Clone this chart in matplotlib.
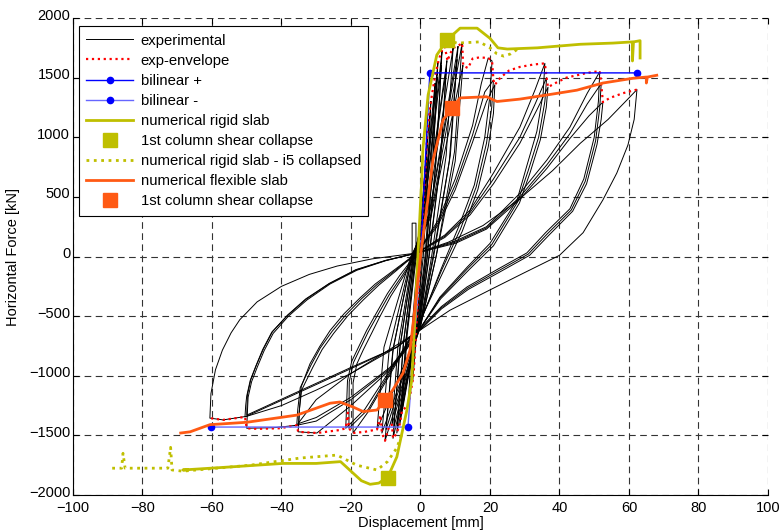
import numpy as np
import matplotlib.pyplot as plt
import matplotlib.transforms as mtransforms

plt.rcParams['font.family'] = ['Liberation Sans', 'DejaVu Sans']

# ---------------- data ----------------
# experimental cycles (displacement mm, force kN), one closed path per cycle
exp_cycles = [
    [(-1.3, -30), (-1.3, 280), (-2.4, 280), (-2.4, -30), (-1, 0), (0.6, 400), (2, 1000),
     (1.2, 450), (0.4, 0), (-0.6, -450), (-2.2, -1035), (-1.4, -450), (-0.5, 0), (0.6, 450), (2, 1000)],
    [(3, 1300), (2, 600), (0.8, 0), (-0.6, -400), (-3.5, -1250), (-2.4, -600), (-0.8, 0), (0.7, 500), (3, 1300)],
    [(4.2, 1450), (3, 700), (1.3, 0), (-0.5, -450), (-5.3, -1290), (-3.8, -650), (-1.2, 0), (0.8, 450), (4.2, 1450)],
    [(5, 1620), (3.6, 800), (1.6, 0), (-0.3, -500), (-5.9, -1400), (-4.2, -700), (-1.5, 0), (1, 450), (5, 1620)],
    [(4.8, 1500), (3.4, 720), (1.5, 0), (-0.4, -480), (-5.6, -1330), (-4, -660), (-1.4, 0), (1, 430), (4.8, 1500)],
    [(6.2, 1720), (4.6, 850), (2, 0), (-0.2, -520), (-6.8, -1480), (-5, -750), (-1.8, 0), (1.2, 420), (6.2, 1720)],
    [(6, 1600), (4.4, 780), (1.9, 0), (-0.2, -500), (-6.6, -1400), (-4.8, -700), (-1.7, 0), (1.2, 400), (6, 1600)],
    [(7.6, 1640), (5.8, 800), (2.5, 0), (-0.1, -540), (-7.9, -1525), (-6, -780), (-2, 0), (1.5, 400), (7.6, 1640)],
    [(7.4, 1560), (5.6, 760), (2.4, 0), (-0.1, -520), (-7.7, -1440), (-5.8, -740), (-2, 0), (1.5, 380), (7.4, 1560)],
    [(9.4, 1750), (7.4, 850), (3.2, 0), (0, -560), (-8.2, -1410), (-6.5, -760), (-2.2, 0), (2, 380), (9.4, 1750)],
    [(10.8, 1760), (8.6, 850), (3.8, 0), (0, -580), (-10.2, -1545), (-8, -800), (-2.5, 0), (2.5, 360), (10.8, 1760)],
    [(10.5, 1650), (8.3, 800), (3.6, 0), (0, -560), (-9.9, -1450), (-7.8, -760), (-2.4, 0), (2.5, 340), (10.5, 1650)],
    [(12, 1790), (9.8, 880), (4.5, 0), (0, -590), (-11.1, -1480), (-9, -780), (-2.6, 0), (3, 350), (12, 1790)],
    [(12.2, 1600), (10, 800), (4.5, 0), (0, -580), (-12.5, -1450), (-10.5, -760), (-2.8, 0), (3, 330), (12.2, 1600)],
    # ~20 mm
    [(-1, 30), (5, 300), (10, 650), (15, 1100), (17.5, 1450), (19.5, 1665), (20.6, 1640),
     (20, 1350), (18.5, 1000), (15.5, 600), (11, 250), (6, -100), (0, -550),
     (-5, -800), (-10, -1050), (-15, -1300), (-19.4, -1480),
     (-19.4, -1060), (-18.3, -900), (-16.5, -785), (-14, -640), (-11.7, -505), (-8.5, -330), (-5, -170), (-1, 30)],
    [(-1, 30), (5, 280), (10, 600), (15, 1020), (18.5, 1380), (21, 1480),
     (20.5, 1250), (19, 950), (16, 580), (11.5, 230), (6, -120), (0, -540),
     (-5, -790), (-10, -1030), (-15, -1280), (-20.6, -1440),
     (-20.5, -1050), (-19.3, -890), (-17.5, -780), (-15, -630), (-12.5, -500), (-9, -320), (-5.5, -170), (-1, 30)],
    [(-1, 30), (5, 260), (10, 560), (15, 960), (19, 1300), (21.4, 1440),
     (21, 1200), (19.5, 920), (16.5, 560), (12, 210), (6.5, -130), (0, -530),
     (-5, -780), (-10, -1010), (-16, -1280), (-21.5, -1440),
     (-21, -1040), (-19.8, -880), (-18, -770), (-15.5, -620), (-13, -490), (-9.5, -310), (-6, -160), (-1, 30)],
    # ~36 mm
    [(-1, 30), (7, 180), (14.3, 390), (21, 700), (28.6, 1085), (33, 1400), (35.8, 1620),
     (35.3, 1370), (33.5, 1050), (30.5, 750), (27.8, 475), (20, 110), (13.4, -90), (5.6, -340), (0, -600),
     (-4, -780), (-8.8, -950), (-20, -1250), (-29.8, -1480), (-35.2, -1470),
     (-34.9, -1300), (-34.2, -1120), (-31, -930), (-28.3, -780), (-25, -645), (-21, -500),
     (-16.5, -365), (-12, -240), (-6.8, -115), (-1, 30)],
    [(-1, 30), (7, 170), (14.3, 370), (21, 650), (28.6, 1000), (33, 1280), (36.3, 1500),
     (35.8, 1300), (34, 1000), (31, 720), (28, 460), (20.5, 100), (13.6, -100), (5.6, -350), (0, -600),
     (-4, -770), (-8.8, -940), (-20, -1200), (-30, -1380), (-35.6, -1415),
     (-35.3, -1280), (-34.6, -1100), (-31.5, -910), (-28.8, -765), (-25.5, -630), (-21.5, -490),
     (-17, -355), (-12.5, -235), (-7, -110), (-1, 30)],
    [(-1, 30), (7, 160), (14.3, 350), (21, 610), (28.6, 950), (33.5, 1230), (36.7, 1420),
     (36.2, 1250), (34.5, 980), (31.5, 700), (28.5, 450), (21, 90), (14, -110), (5.8, -355), (0, -600),
     (-4, -760), (-8.8, -930), (-20, -1180), (-30, -1350), (-35, -1400),
     (-34.8, -1270), (-34.3, -1090), (-31.8, -900), (-29, -755), (-26, -620), (-22, -480),
     (-17.5, -350), (-13, -230), (-7.2, -105), (-1, 30)],
    # ~52 mm
    [(-1, 30), (10, 130), (19, 250), (28.6, 530), (36.4, 810), (43, 1085), (48, 1370), (51.6, 1550),
     (51.2, 1300), (50, 1000), (47, 650), (43, 400), (36, 200), (30.6, 30), (22, -110), (13.4, -255), (6, -420), (0, -600),
     (-6.8, -760), (-20, -980), (-30, -1200), (-35.6, -1415), (-42, -1435), (-50, -1440),
     (-49.8, -1300), (-49.6, -1180), (-48.6, -1050), (-47, -930), (-45, -790), (-42.4, -645),
     (-38, -500), (-32.7, -365), (-26, -230), (-18.3, -115), (-10, -35), (-1, 30)],
    [(-1, 30), (10, 120), (19, 240), (28.6, 500), (36.4, 770), (43, 1030), (48, 1280), (52, 1450),
     (51.6, 1250), (50.4, 970), (47.4, 630), (43.4, 390), (36.5, 190), (31, 20), (22.4, -120), (13.6, -265), (6, -430), (0, -610),
     (-6.8, -760), (-20, -940), (-35, -1140), (-50.5, -1345),
     (-50.3, -1250), (-50, -1170), (-49, -1040), (-47.4, -920), (-45.4, -780), (-42.8, -635),
     (-38.3, -495), (-33, -360), (-26.3, -228), (-18.5, -112), (-10, -33), (-1, 30)],
    [(-1, 30), (10, 110), (19, 230), (28.6, 480), (36.4, 740), (43, 990), (48.5, 1180), (52.5, 1295),
     (52, 1150), (50.8, 940), (47.8, 610), (43.8, 380), (37, 180), (31.4, 10), (22.8, -130), (13.8, -275), (6, -440), (0, -615),
     (-6.8, -760), (-20, -930), (-35, -1130), (-50, -1330),
     (-49.9, -1240), (-49.8, -1160), (-48.8, -1030), (-47.2, -910), (-45.2, -775), (-42.6, -630),
     (-38.2, -490), (-33, -355), (-26.2, -225), (-18.6, -110), (-10, -32), (-1, 30)],
    # ~62 mm
    [(-1, 30), (8, 120), (18, 260), (28, 470), (38, 720), (46, 950), (54, 1150), (59, 1300), (62.3, 1400),
     (61.5, 1150), (59.7, 935), (56.5, 700), (52.5, 475), (46.8, 200), (40, 10), (29.6, -140), (20, -280), (8.5, -450), (0, -615),
     (-10, -800), (-20, -980), (-30, -1120), (-40, -1250), (-50, -1340), (-56.8, -1370), (-60.6, -1355),
     (-60.3, -1150), (-59, -950), (-57, -785), (-54.5, -640), (-52, -530), (-47, -380),
     (-40, -250), (-32, -150), (-24, -80), (-14, -20), (-1, 30)],
]

env_pos_x = [0, 1, 2, 3, 4, 5, 6, 7, 7.8, 8.5, 9.5, 11, 12, 12.3, 13.7, 15, 17, 19.5, 20.6, 21, 21.4,
             23, 25.5, 28.6, 32.5, 35.8, 36.3, 36.7, 38.5, 42, 48, 51.6, 52, 52.5, 54.5, 58.3, 62.3]
env_pos_y = [0, 500, 1050, 1300, 1480, 1620, 1720, 1760, 1640, 1700, 1750, 1770, 1790, 1600, 1580, 1660,
             1670, 1665, 1640, 1480, 1440, 1500, 1560, 1590, 1610, 1620, 1500, 1420, 1450, 1500, 1540,
             1555, 1450, 1295, 1330, 1370, 1400]
env_neg_x = [0, -1, -2, -3.5, -5.3, -5.9, -6.8, -7.9, -8.2, -9, -10.2, -11.1, -11.5, -12.5, -16, -19.4,
             -20.6, -20.9, -21.5, -23.2, -29.8, -35.2, -35.6, -40.4, -47, -50, -50.5, -56.8, -60.6]
env_neg_y = [0, -500, -1000, -1250, -1290, -1400, -1480, -1525, -1410, -1420, -1545, -1480, -1330, -1450,
             -1470, -1480, -1440, -1310, -1440, -1455, -1480, -1470, -1415, -1440, -1445, -1440, -1345,
             -1370, -1355]

bil_pos_x = [0, 2.7, 62.3]
bil_pos_y = [0, 1540, 1540]
bil_neg_x = [0, -3.6, -60.3]
bil_neg_y = [0, -1430, -1430]

rigid_x = [-67, -68.4, -55, -39.6, -30, -23, -20, -17, -14.5, -12, -9.4, -6.8, -3.9, -2.5, 0, 0.35,
           0.7, 2.2, 4.7, 7.6, 11.4, 16.3, 20, 22.3, 25, 33.6, 46, 55.4, 61, 61, 61.3, 63.2, 63.2]
rigid_y = [-1790, -1790, -1765, -1735, -1735, -1720, -1800, -1880, -1910, -1900, -1850, -1680, -1287,
           -1035, 440, 640, 900, 1355, 1690, 1815, 1915, 1915, 1830, 1750, 1740, 1750, 1780, 1790,
           1800, 1640, 1800, 1810, 1665]
rigid_sq = (7.6, 1815, -9.4, -1857)

i5_pos_x = [7.6, 10.5, 14, 17, 20, 22, 24, 26, 28]
i5_pos_y = [1815, 1790, 1795, 1800, 1750, 1700, 1680, 1700, 1740]
i5_neg_x = [-5.5, -6.8, -9.5, -12.5, -18.3, -24, -34.7, -49, -68.4, -71.5, -71.9, -72.7, -77.8,
            -85, -85.6, -86, -89.3]
i5_neg_y = [-1500, -1605, -1720, -1790, -1750, -1665, -1690, -1750, -1800, -1790, -1600, -1775,
            -1775, -1775, -1650, -1775, -1775]

flex_x = [-69, -66.3, -60.6, -50, -35.6, -26, -23.2, -19.4, -16.5, -12.5, -10.2, -8, -5, -3, -1, 0,
          3.6, 6.5, 9.1, 11.4, 19, 22, 28.6, 36.4, 45, 52.5, 61.2, 65, 65, 65.3, 68]
flex_y = [-1480, -1470, -1410, -1390, -1330, -1230, -1220, -1262, -1300, -1287, -1203, -1120, -977,
          -785, -280, 0, 810, 1145, 1245, 1330, 1340, 1300, 1320, 1355, 1395, 1455, 1495, 1505, 1455,
          1505, 1520]
flex_sq = (9.1, 1245, -10.2, -1203)

olive = '#bfbf00'
orange = '#ff5a14'

fig = plt.figure(figsize=(7.83, 5.32), dpi=100)
ax = fig.add_axes([0.0932, 0.0695, 0.8876, 0.8966])

for i, cyc in enumerate(exp_cycles):
    xs, ys = zip(*cyc)
    ax.plot(xs, ys, color='black', lw=0.7, label='experimental' if i == 0 else None, zorder=2)

ax.plot(env_pos_x, env_pos_y, color='red', ls=':', lw=1.6, label='exp-envelope', zorder=3)
ax.plot(env_neg_x, env_neg_y, color='red', ls=':', lw=1.6, zorder=3)
ax.plot(bil_pos_x, bil_pos_y, color='#0000ff', lw=1, marker='.', ms=9, markevery=[1, 2],
        label='bilinear +', zorder=4)
ax.plot(bil_neg_x, bil_neg_y, color='#6666ff', lw=1, marker='.', ms=9, mfc='#0000ff', mec='#0000ff',
        markevery=[1, 2], label='bilinear -', zorder=4)
ax.plot(rigid_x, rigid_y, color=olive, lw=2, label='numerical rigid slab', zorder=5)
ax.plot(rigid_sq[::2], rigid_sq[1::2], ls='none', marker='s', ms=10, color=olive,
        label='1st column shear collapse', zorder=7)
ax.plot(i5_pos_x, i5_pos_y, color=olive, ls=':', lw=2, label='numerical rigid slab - i5 collapsed', zorder=5)
ax.plot(i5_neg_x, i5_neg_y, color=olive, ls=':', lw=2, zorder=5)
ax.plot(flex_x, flex_y, color=orange, lw=2, label='numerical flexible slab', zorder=6)
ax.plot(flex_sq[::2], flex_sq[1::2], ls='none', marker='s', ms=10, color=orange,
        label='1st column shear collapse', zorder=7)

ax.set_xlim(-100, 100)
ax.set_ylim(-2000, 2000)
ax.set_xticks(np.arange(-100, 101, 20))
ax.set_yticks(np.arange(-2000, 2001, 500))
ax.tick_params(direction='in', length=4, top=True, right=True, labelsize=10.5)
ax.tick_params(axis='x', pad=4)
ax.tick_params(axis='y', pad=2)
# lift the y tick labels a little so -2000 clears -100 as in the original
lift = mtransforms.ScaledTranslation(0, 4 / 100, fig.dpi_scale_trans)
for lab in ax.get_yticklabels():
    lab.set_transform(lab.get_transform() + lift)
ax.grid(True, color='0.2', ls=(0, (6, 4)), lw=0.8)
for s in ['top', 'right']:
    ax.spines[s].set_visible(False)
ax.set_xlabel('Displacement [mm]', fontsize=10.5, labelpad=1)
ax.set_ylabel('Horizontal Force [kN]', fontsize=10.5, labelpad=6)

leg = ax.legend(loc='upper left', bbox_to_anchor=(0.0086, 0.983), borderaxespad=0, fontsize=10.7,
                frameon=True, fancybox=False, edgecolor='black', framealpha=1, handlelength=3.15,
                labelspacing=0.41, borderpad=0.5, handletextpad=0.5, numpoints=1)
leg.get_frame().set_linewidth(0.8)

fig.savefig('out.png', dpi=100)
